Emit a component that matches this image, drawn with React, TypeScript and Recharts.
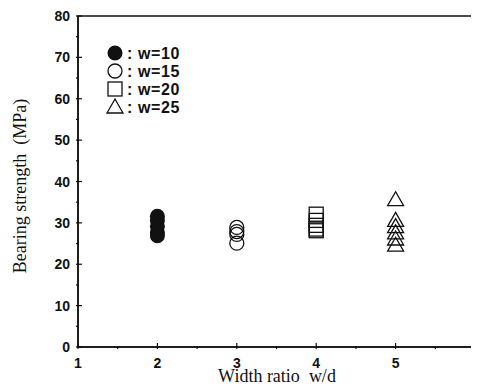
import { ScatterChart, Scatter, XAxis, YAxis, ReferenceArea } from "recharts";

// values (MPa)
const W10 = [31.6, 30.6, 29.2, 27.6, 26.9];
const W15 = [28.9, 27.9, 27.2, 25.1];
const W20 = [32.1, 30.6, 29.4, 28.5, 28.1];
const W25 = [35.6, 30.6, 29.1, 27.6, 26.1, 24.6];

const X_TICKS = [1, 1.5, 2, 2.5, 3, 3.5, 4, 4.5, 5, 5.5, 6];
const Y_TICKS = [0, 5, 10, 15, 20, 25, 30, 35, 40, 45, 50, 55, 60, 65, 70, 75, 80];
const LEGEND_LABELS = ["w=10", "w=15", "w=20", "w=25"];

const toPoints = (x: number, vals: number[]) => vals.map((y) => ({ x, y }));

const INK = "#111";
const SANS = "'Liberation Sans', Arial, sans-serif";
const SERIF = "'Liberation Serif', 'Times New Roman', serif";

const BottomTick = ({ x, y, payload }: any) => {
  const major = Number.isInteger(payload.value);
  return (
    <g>
      <path d={`M${x},${y}V${y - (major ? 6 : 3)}`} stroke={INK} strokeWidth={1.2} fill="none" />
      <text x={x} y={y + 19} textAnchor="middle" fontFamily={SANS} fontWeight="bold" fontSize={14} fill={INK}>
        {major ? String(payload.value) : ""}
      </text>
    </g>
  );
};

const LeftTick = ({ x, y, payload }: any) => {
  const major = payload.value % 10 === 0;
  return (
    <g>
      <path d={`M${x},${y}H${x + (major ? 6 : 3)}`} stroke={INK} strokeWidth={1.2} fill="none" />
      <text x={x - 6} y={y + 5} textAnchor="end" fontFamily={SANS} fontWeight="bold" fontSize={14} fill={INK}>
        {major ? String(payload.value) : ""}
      </text>
    </g>
  );
};

const FilledCircle = ({ cx, cy }: any) => <circle cx={cx} cy={cy} r={7.5} fill={INK} />;
const OpenCircle = ({ cx, cy }: any) => (
  <circle cx={cx} cy={cy} r={7} fill="none" stroke={INK} strokeWidth={1.3} />
);
const OpenSquare = ({ cx, cy }: any) => (
  <rect x={cx - 7} y={cy - 7} width={14} height={14} fill="none" stroke={INK} strokeWidth={1.3} />
);
const OpenTriangle = ({ cx, cy }: any) => (
  <polygon
    points={`${cx},${cy - 8} ${cx - 8},${cy + 6} ${cx + 8},${cy + 6}`}
    fill="none"
    stroke={INK}
    strokeWidth={1.3}
  />
);

const LEGEND_SHAPES = [FilledCircle, OpenCircle, OpenSquare, OpenTriangle];

// x-axis title plus the in-plot legend, both drawn inside the svg
const BottomLabel = () => (
  <g>
    <text x={269} y={374} textAnchor="middle" fontFamily={SERIF} fontSize={18} fill={INK}>
      Width ratio{"\u00a0\u00a0"}w/d
    </text>
    {LEGEND_LABELS.map((label, i) => {
      const Shape = LEGEND_SHAPES[i];
      const cy = 45 + i * 18;
      return (
        <g key={label}>
          <Shape cx={107} cy={cy} />
          <text x={119} y={cy + 5.5} fontFamily={SANS} fontWeight="bold" fontSize={16} letterSpacing={0.6} fill={INK}>
            {":\u00a0" + label}
          </text>
        </g>
      );
    })}
  </g>
);

// the body keeps its 8px margin, so the chart is sized 471x382 and positioned from there
export default function App() {
  return (
    <div>
      <ScatterChart width={471} height={382} margin={{ top: 8, right: 4, left: 0, bottom: 0 }}>
        <ReferenceArea x1={1} x2={6} y1={0} y2={80} fill="none" stroke={INK} strokeWidth={1.5} zIndex={2500} />
        <XAxis
          type="number"
          dataKey="x"
          domain={[1, 6]}
          ticks={X_TICKS}
          interval={0}
          tickSize={0}
          tickLine={false}
          tick={<BottomTick />}
          axisLine={{ stroke: INK, strokeWidth: 1.5 }}
          height={43}
          zIndex={2500}
          label={{ content: () => <BottomLabel /> }}
        />
        <YAxis
          type="number"
          dataKey="y"
          domain={[0, 80]}
          ticks={Y_TICKS}
          interval={0}
          tickSize={0}
          tickLine={false}
          tick={<LeftTick />}
          axisLine={{ stroke: INK, strokeWidth: 1.5 }}
          width={70}
          zIndex={2500}
          label={{
            content: () => (
              <text
                x={14}
                y={178}
                transform="rotate(-90 14 178)"
                textAnchor="middle"
                dominantBaseline="middle"
                fontFamily={SERIF}
                fontSize={18}
                fill={INK}
              >
                Bearing strength{"\u00a0\u00a0"}(MPa)
              </text>
            ),
          }}
        />
        <Scatter data={toPoints(2, W10)} shape={<FilledCircle />} isAnimationActive={false} />
        <Scatter data={toPoints(3, W15)} shape={<OpenCircle />} isAnimationActive={false} />
        <Scatter data={toPoints(4, W20)} shape={<OpenSquare />} isAnimationActive={false} />
        <Scatter data={toPoints(5, W25)} shape={<OpenTriangle />} isAnimationActive={false} />
      </ScatterChart>
    </div>
  );
}
